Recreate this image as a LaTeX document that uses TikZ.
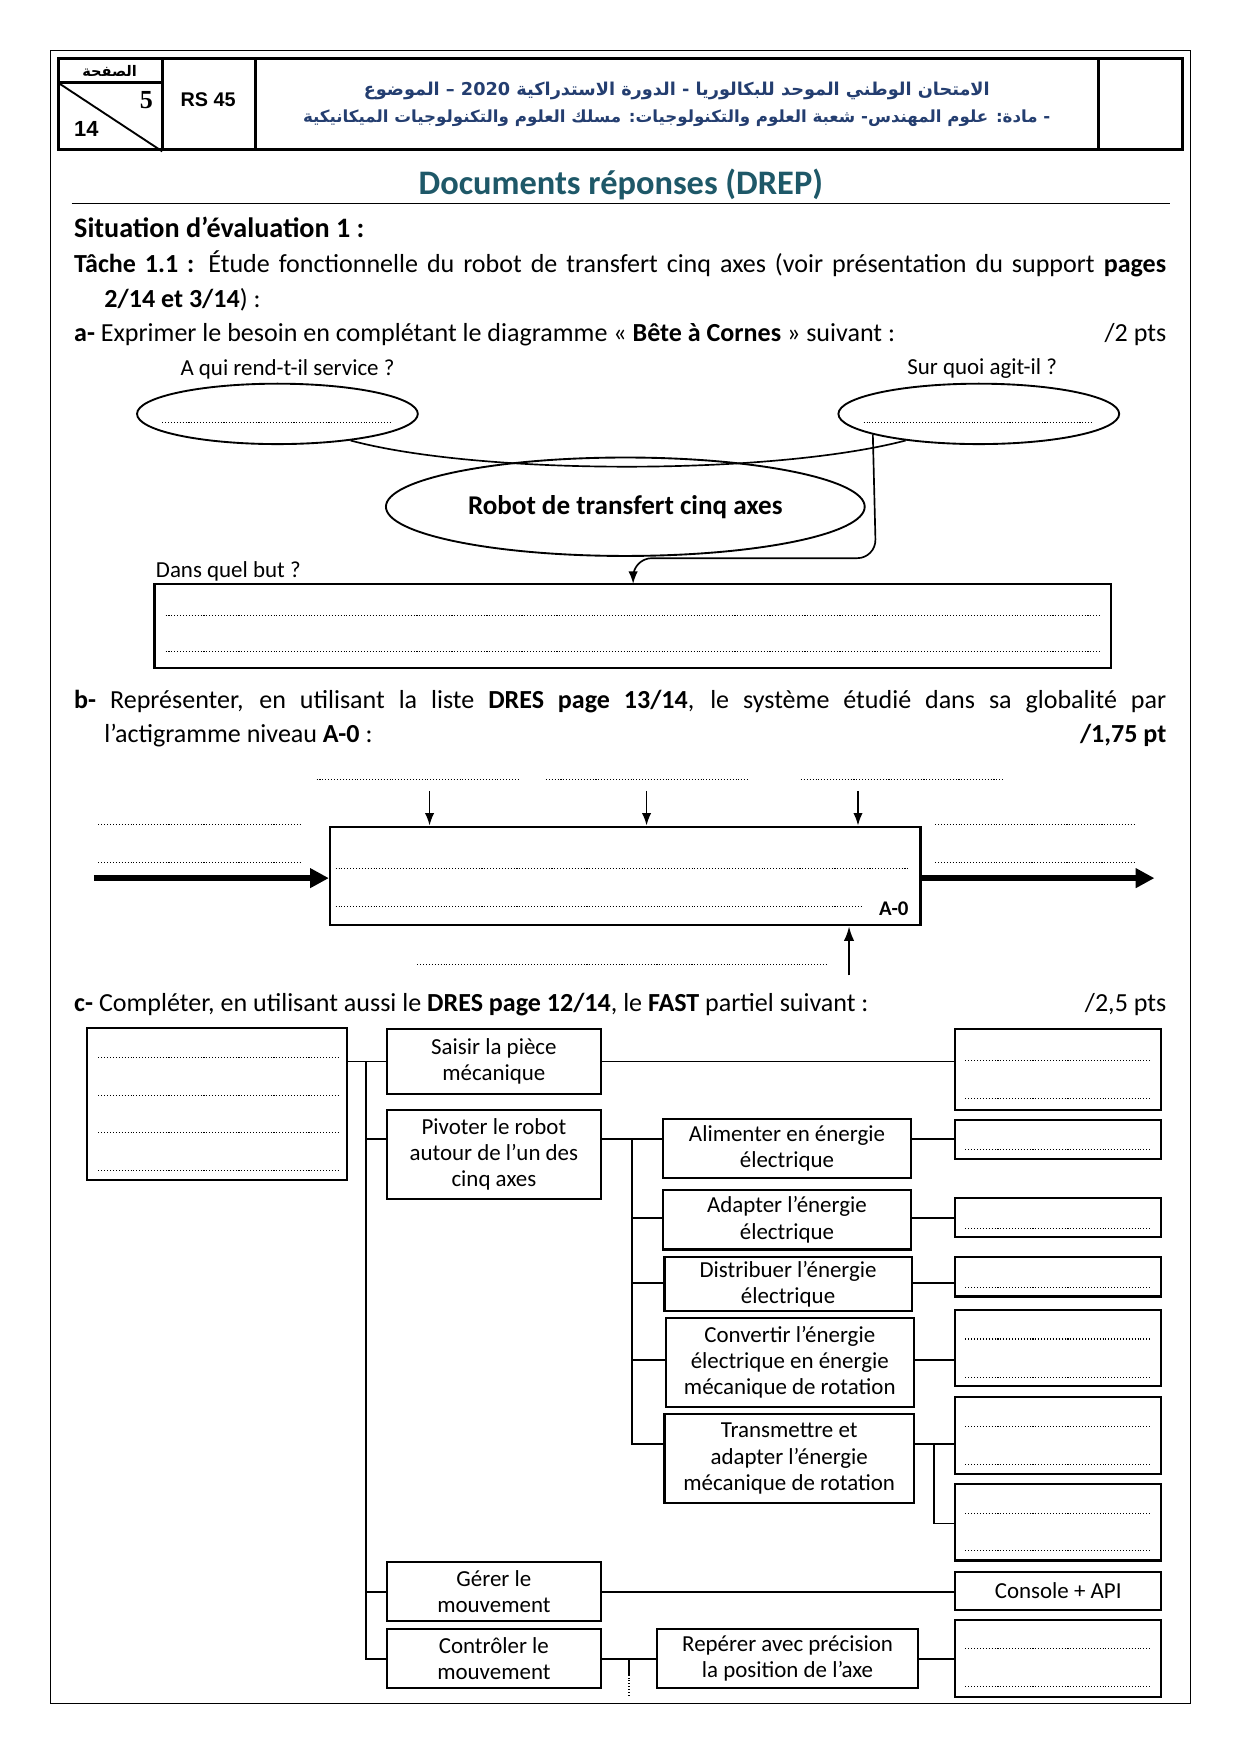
\documentclass[tikz,border=0pt]{standalone}
\usepackage{fontspec}
\setmainfont{Carlito}
\newfontfamily\arabicfont[Script=Arabic]{DejaVu Sans}
\newfontfamily\arialf{Liberation Sans}
\newfontfamily\timesf{Liberation Serif}
\TeXXeTstate=1
\usetikzlibrary{fit,arrows.meta,shapes.geometric}
\definecolor{hdrblue}{RGB}{36,62,112}
\definecolor{titleteal}{RGB}{30,88,104}
\newcommand\pxu{0.5368pt}
\newcommand\fastfont{\fontsize{11}{12.6}\selectfont}
\newcommand\bodyfont{\fontsize{12.5}{15}\selectfont}
% box node: style, name, x1, y1, x2, y2, text
\newcommand\boxnode[7]{\node[#1, minimum width={(#5-#3)*\pxu}, minimum height={(#6-#4)*\pxu}] (#2) at ({(#3+#5)/2},{(#4+#6)/2}) {#7};}
\begin{document}
\begin{tikzpicture}[x=0.5368pt, y=-0.5368pt,
  every node/.style={inner sep=0pt},
  fbox/.style={draw, line width=1pt, inner sep=0pt, align=center, font=\fastfont},
  rbox/.style={draw, line width=1pt, inner sep=0pt},
  link/.style={line width=0.8pt},
  dots/.style={line width=0.5pt, dash pattern=on 0.5pt off 0.9pt},
  body/.style={font=\bodyfont, anchor=base west},
  bigarrow/.style={line width=3.2pt, -{Triangle[length=9pt,width=9pt]}},
  smallarrow/.style={line width=0.75pt, -{Latex[length=6pt,width=4.5pt]}},
  horn/.style={draw, ellipse, line width=0.9pt, inner sep=0pt}]
\useasboundingbox (0,0) rectangle (1109,1568);
% page frame
\node[draw, line width=0.7pt, fit={(45,45) (1064,1523)}] (page) {};
% header
\node[draw, line width=1.4pt, fit={(52,52) (1057,134)}] (hdr) {};
\coordinate (v1) at (145,52);
\coordinate (v2) at (228,52);
\coordinate (v3) at (982,52);
\draw[line width=1.4pt] (v1) -- (v1 |- hdr.south);
\draw[line width=1.4pt] (v2) -- (v2 |- hdr.south);
\draw[line width=1.4pt] (v3) -- (v3 |- hdr.south);
\coordinate (hs) at (52,74);
\draw[line width=1.4pt] (hs) -- (hs -| v1);
\draw[line width=0.9pt] (hs) -- (v1 |- hdr.south);
\node[font=\arabicfont\bfseries\fontsize{7}{8}\selectfont] (pg) at (98,63) {\beginR الصفحة\endR};
\node[font=\timesf\bfseries\fontsize{12.5}{14}\selectfont, anchor=base east] (p5) at (137,97) {5};
\node[font=\arialf\bfseries\fontsize{10.5}{12}\selectfont, anchor=base west] (p14) at (66,122) {14};
\node[font=\arialf\bfseries\fontsize{9.5}{12}\selectfont] (rs) at (186,89) {RS 45};
\node[font=\arabicfont\bfseries\fontsize{8.5}{12}\selectfont, text=hdrblue] (ar1) at (605,81)
  {\beginR الامتحان الوطني الموحد للبكالوريا - الدورة الاستدراكية \beginL 2020\endL{} – الموضوع\endR};
\node[font=\arabicfont\bfseries\fontsize{8}{12}\selectfont, text=hdrblue] (ar2) at (605,106)
  {\beginR - مادة: علوم المهندس- شعبة العلوم والتكنولوجيات: مسلك العلوم والتكنولوجيات الميكانيكية\endR};
% title
\node[font=\bfseries\fontsize{16.5}{18}\selectfont, text=titleteal, anchor=base] (title) at (555,174) {Documents réponses (DREP)};
\coordinate (ruleL) at (64,182);
\coordinate (ruleR) at (1046,182);
\draw[line width=0.8pt] (ruleL) -- (ruleR);
% texts
\node[font=\bfseries\fontsize{13.5}{15}\selectfont, anchor=base west] (sit) at (66,212) {Situation d’évaluation 1 :};
\node[body] (t1) at (66,244) {\makebox[524pt][s]{\textbf{Tâche 1.1 :} Étude fonctionnelle du robot de transfert cinq axes (voir présentation du support \textbf{pages}}};
\node[body] (t2) at (93,275) {\textbf{2/14 et 3/14}) :};
\node[body] (ta) at (66,305) {\textbf{a-} Exprimer le besoin en complétant le diagramme « \textbf{Bête à Cornes} » suivant :};
\node[font=\bodyfont, anchor=base east] (pa) at (1043,305) {/2 pts};
% bete a cornes
\node[font=\fontsize{11}{13}\selectfont, anchor=base] (q1) at (257,336) {A qui rend-t-il service ?};
\node[font=\fontsize{11}{13}\selectfont, anchor=base] (q2) at (878,335) {Sur quoi agit-il ?};
\node[horn, minimum width={251*\pxu}, minimum height={54*\pxu}] (lq) at (248,370) {};
\node[horn, minimum width={251*\pxu}, minimum height={54*\pxu}] (rq) at (875,370) {};
\node[horn, minimum width={428*\pxu}, minimum height={88*\pxu}, font=\bfseries\fontsize{13}{15}\selectfont] (robot) at (559,453) {Robot de transfert cinq axes};
\draw[dots] (145,378) -- (351,378);
\draw[dots] (772,378) -- (978,378);
\draw[line width=0.8pt] (lq.-20) .. controls (430,425) and (690,425) .. (rq.200);
\node[font=\fontsize{11}{13}\selectfont, anchor=base west] (q3) at (139,516) {Dans quel but ?};
\node[draw, line width=1.2pt, fit={(138,522) (993,597)}] (but) {};
\draw[dots] (148,550) -- (984,550);
\draw[dots] (148,582) -- (984,582);
\coordinate (bt) at (566,522);
\draw[line width=0.8pt, -{Latex[length=6pt,width=4.5pt]}, rounded corners=9pt] (rq.191) -- (783,499) -- (566,499) -- (bt);
% b
\node[body] (tb) at (66,633) {\makebox[524pt][s]{\textbf{b-} Représenter, en utilisant la liste \textbf{DRES page 13/14}, le système étudié dans sa globalité par}};
\node[body] (tb2) at (93,664) {l’actigramme niveau \textbf{A-0} :};
\node[font=\bodyfont\bfseries, anchor=base east] (pb) at (1043,664) {/1,75 pt};
% actigram
\node[draw, line width=1.1pt, fit={(295,739) (823,827)}] (a0box) {};
\draw[dots] (283,697) -- (463,697);
\draw[dots] (488,697) -- (668,697);
\draw[dots] (716,697) -- (897,697);
\draw[dots] (88,737) -- (269,737);
\draw[dots] (88,771) -- (269,771);
\draw[dots] (836,737) -- (1015,737);
\draw[dots] (836,771) -- (1015,771);
\draw[dots] (300,776) -- (812,776);
\draw[dots] (300,810) -- (771,810);
\draw[dots] (373,862) -- (740,862);
\node[font=\bfseries\fontsize{10}{12}\selectfont] (a0) at (799,812) {A-0};
\coordinate (c1) at (384,707);
\coordinate (c2) at (578,707);
\coordinate (c3) at (767,707);
\draw[smallarrow] (c1) -- (c1 |- a0box.north);
\draw[smallarrow] (c2) -- (c2 |- a0box.north);
\draw[smallarrow] (c3) -- (c3 |- a0box.north);
\coordinate (mec) at (759,872);
\draw[line width=1pt, -{Latex[length=7pt,width=5pt]}] (mec) -- (mec |- a0box.south);
\coordinate (ain) at (84,785);
\coordinate (aout) at (1032,785);
\draw[bigarrow] (ain) -- (ain -| a0box.west);
\draw[bigarrow] (a0box.east |- aout) -- (aout);
% c
\node[body] (tc) at (66,904) {\textbf{c-} Compléter, en utilisant aussi le \textbf{DRES page 12/14}, le \textbf{FAST} partiel suivant :};
\node[font=\bodyfont, anchor=base east] (pc) at (1043,904) {/2,5 pts};
% FAST boxes
\boxnode{rbox}{lbox}{78}{919}{310}{1055}{}
\foreach \yy in {945,979,1012,1046} \draw[dots] (88,\yy) -- (303,\yy);
\boxnode{fbox}{saisir}{346}{920}{537}{978}{Saisir la pièce\\mécanique}
\boxnode{fbox}{pivoter}{346}{992}{537}{1072}{Pivoter le robot\\autour de l’un des\\cinq axes}
\boxnode{fbox}{gerer}{346}{1396}{537}{1449}{Gérer le\\mouvement}
\boxnode{fbox}{controler}{346}{1456}{537}{1509}{Contrôler le\\mouvement}
\boxnode{fbox}{alim}{593}{1000}{814}{1053}{Alimenter en énergie\\électrique}
\boxnode{fbox}{adapt}{593}{1064}{814}{1117}{Adapter l’énergie\\électrique}
\boxnode{fbox}{distr}{594}{1124}{815}{1172}{Distribuer l’énergie\\électrique}
\boxnode{fbox}{conv}{595}{1178}{817}{1258}{Convertir l’énergie\\électrique en énergie\\mécanique de rotation}
\boxnode{fbox}{trans}{594}{1264}{817}{1344}{Transmettre et\\adapter l’énergie\\mécanique de rotation}
\boxnode{fbox}{reper}{587}{1456}{821}{1509}{Repérer avec précision\\la position de l’axe}
\boxnode{rbox}{r1}{854}{920}{1038}{992}{}
\boxnode{rbox}{r2}{854}{1001}{1038}{1036}{}
\boxnode{rbox}{r3}{854}{1071}{1038}{1106}{}
\boxnode{rbox}{r4}{854}{1124}{1038}{1159}{}
\boxnode{rbox}{r5}{854}{1171}{1038}{1239}{}
\boxnode{rbox}{r6}{854}{1249}{1038}{1318}{}
\boxnode{rbox}{r7}{854}{1327}{1038}{1395}{}
\boxnode{fbox}{r8}{854}{1405}{1038}{1439}{Console + API}
\boxnode{rbox}{r9}{854}{1448}{1038}{1517}{}
\foreach \yy in {948,982,1028,1098,1151,1197,1231,1275,1309,1353,1386,1474,1508} \draw[dots] (863,\yy) -- (1029,\yy);
% levels
\coordinate (y1) at (0,949);
\coordinate (y2) at (0,1018);
\coordinate (y3) at (0,1089);
\coordinate (y4) at (0,1147);
\coordinate (y5) at (0,1216);
\coordinate (y6) at (0,1291);
\coordinate (y7) at (0,1362);
\coordinate (y8) at (0,1423);
\coordinate (y9) at (0,1483);
\coordinate (T1) at (327,949);
\coordinate (T2) at (565,1018);
\coordinate (T3) at (835,1291);
\coordinate (T4) at (562,1483);
\coordinate (T4a) at (562,1497);
\coordinate (T4b) at (562,1516);
% connectors
\draw[link] (lbox.east |- y1) -- (saisir.west |- y1);
\draw[link] (saisir.east |- y1) -- (r1.west |- y1);
\draw[link] (T1) -- (T1 |- y9) -- (controler.west |- y9);
\draw[link] (T1 |- y2) -- (pivoter.west |- y2);
\draw[link] (T1 |- y8) -- (gerer.west |- y8);
\draw[link] (pivoter.east |- y2) -- (alim.west |- y2);
\draw[link] (alim.east |- y2) -- (r2.west |- y2);
\draw[link] (T2) -- (T2 |- y6) -- (trans.west |- y6);
\draw[link] (T2 |- y3) -- (adapt.west |- y3);
\draw[link] (T2 |- y4) -- (distr.west |- y4);
\draw[link] (T2 |- y5) -- (conv.west |- y5);
\draw[link] (adapt.east |- y3) -- (r3.west |- y3);
\draw[link] (distr.east |- y4) -- (r4.west |- y4);
\draw[link] (conv.east |- y5) -- (r5.west |- y5);
\draw[link] (trans.east |- y6) -- (r6.west |- y6);
\draw[link] (T3) -- (T3 |- y7) -- (r7.west |- y7);
\draw[link] (gerer.east |- y8) -- (r8.west |- y8);
\draw[link] (controler.east |- y9) -- (reper.west |- y9);
\draw[link] (reper.east |- y9) -- (r9.west |- y9);
\draw[link] (T4) -- (T4a);
\draw[dots, line width=0.8pt] (T4a) -- (T4b);
\end{tikzpicture}
\end{document}
